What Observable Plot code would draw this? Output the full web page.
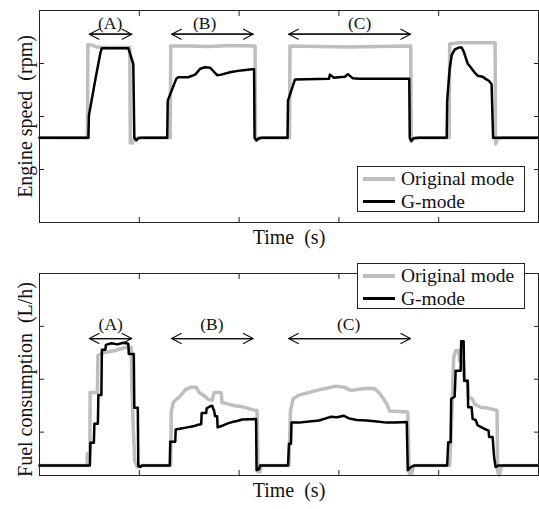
<!DOCTYPE html>
<html><head><meta charset="utf-8">
<script src="https://cdn.jsdelivr.net/npm/d3@7"></script>
<script src="https://cdn.jsdelivr.net/npm/@observablehq/plot@0.6"></script>
<style>
body{margin:0;background:#fff;}
#wrap{position:relative;width:539px;height:509px;font-family:'Liberation Serif',serif;}
#wrap svg{display:block;}
.legend{position:absolute;background:#fff;border:1px solid #222;box-sizing:border-box;}
.row{position:absolute;left:0;height:22px;display:flex;align-items:center;}
.sw{margin-left:5px;width:32px;}
.lab{margin-left:6px;font-size:19.5px;line-height:22px;color:#111;white-space:nowrap;}
</style></head><body><div id="wrap"></div>
<script>
// ---------- data ----------
const seriesNames = ["Original mode", "G-mode"];
const seriesColors = ["#bebebe", "#000000"];
const timeTicks = [100, 200, 300, 400];
const speedTicks = [1000, 2000, 3000];
const fuelTicks = [10, 20, 30];
const xLabel = "Time\u00a0\u00a0(s)";
const speedLabel = "Engine speed\u00a0\u00a0(rpm)";
const fuelLabel = "Fuel consumption\u00a0\u00a0(L/h)";

// [time, engine speed]
const speedOriginal = [
  [0,1600],[48,1600],[48.5,3360],[54,3340],[57,3310],[70,3300],[88,3300],[90.5,3310],[91,1500],[93,1500],[95,1580],[100,1600],
  [131,1600],[131.5,3330],[150,3330],[170,3320],[190,3340],[216,3330],[216.5,1550],[219,1590],[223,1600],
  [250.5,1600],[251,3330],[280,3320],[310,3310],[340,3320],[372,3330],[372.5,1530],[375,1590],[380,1600],
  [410.5,1600],[411,3370],[420,3390],[440,3390],[456.5,3390],[457,1480],[459,1580],[465,1600],[500,1600]
];
const speedGmode = [
  [0,1600],[49,1600],[49.5,2020],[56,2700],[61,3200],[62.5,3290],[75,3290],[89,3290],[94,2990],[95,1600],[97,1550],[99,1590],[102,1600],
  [128,1600],[128.5,2300],[137,2710],[139,2740],[149,2740],[156,2790],[161,2900],[166,2930],[171,2920],[178,2780],[182,2790],[192,2840],[202,2870],[213,2890],[215,2890],[215.5,1600],[217.5,1550],[220,1590],[223,1600],
  [248.5,1600],[249,2300],[256,2700],[290,2710],[291,2790],[295,2730],[300,2740],[306,2750],[309,2800],[314,2720],[320,2710],[370.5,2710],[371,1600],[372.5,1540],[375,1590],[380,1600],
  [408,1600],[408.5,2300],[411,2900],[413,3160],[416,3260],[420,3300],[423,3300],[425,3230],[429,3000],[432,2930],[436,2830],[439,2770],[444,2750],[447,2710],[450.5,2670],[453,2610],[454.5,1600],[500,1600]
];
// [time, fuel consumption]
const fuelOriginal = [
  [0,3.7],[47.5,3.7],[48,6.0],[50.5,6.0],[50.7,17.5],[58,17.5],[58.5,24.5],[64,25.0],[75,25.4],[86,26.0],[92,26.0],[92.5,19.0],[94,10.5],[95.5,4.5],[98,3.4],[100,3.7],
  [131.5,3.7],[132,13.8],[134,15.6],[137,16.2],[140,16.6],[143,17.3],[146,18.0],[151,18.5],[157,18.5],[160,17.5],[165,16.9],[169,16.2],[173,16.0],[175,17.5],[182,17.5],[183,15.6],[189,15.3],[196,15.0],[203,14.8],[209,14.5],[214,14.2],[218,14.1],[219,2.5],[221,2.5],[222,3.7],
  [250,3.7],[250.5,7.8],[251.5,14.0],[254,16.3],[260,17.0],[270,17.5],[280,18.0],[290,18.4],[297,18.7],[305,18.5],[312,17.9],[320,18.1],[330,18.3],[336,18.2],[340,17.5],[344,16.5],[348,15.3],[351,14.0],[360,13.9],[369,13.8],[370.5,2.0],[373,2.2],[375,3.7],
  [411,3.7],[412,7.8],[413.5,15.3],[415,24.1],[417,25.4],[420,25.4],[421,23.5],[425,23.5],[426,19.7],[429,19.7],[430,16.6],[434,16.2],[436,15.3],[442,14.7],[450,14.5],[458.5,14.1],[459,2.5],[461,1.9],[463,3.5],[466,3.7],[500,3.7]
];
const fuelGmode = [
  [0,3.7],[50.5,3.7],[51,8.0],[54.5,8.0],[55,11.6],[58.5,11.6],[59,17.0],[62,17.0],[62.5,25.6],[66,25.6],[66.5,26.5],[72,26.8],[78,26.6],[84,26.9],[89,26.7],[89.5,24.8],[94.5,24.8],[95,14.6],[98.5,14.6],[99,3.6],[101,3.4],[103,3.7],
  [130.5,3.7],[131,8.2],[136,8.2],[136.5,10.5],[142,10.7],[148,10.9],[154,11.1],[159,11.4],[162,11.5],[162.5,13.6],[167,13.6],[167.5,14.5],[171,14.9],[173,15.0],[175,14.0],[176,13.0],[178,13.0],[178.5,10.9],[183,11.2],[188,11.6],[193,11.9],[198,12.1],[203,12.4],[217,12.5],[217.5,2.8],[220,3.0],[221,3.7],
  [249,3.7],[250,7.8],[252,7.8],[252.5,11.8],[260,11.8],[270,12.0],[280,12.2],[287,12.6],[292,12.9],[298,12.8],[305,13.1],[310,12.6],[318,12.3],[328,12.2],[338,12.0],[348,11.8],[356,11.8],[368,11.9],[369,2.8],[372,3.4],[376,3.7],
  [408.5,3.7],[409.5,8.1],[412,8.1],[412.5,16.3],[416,16.7],[417,21.6],[422,21.6],[422.5,27.2],[425,27.2],[425.5,19.7],[429,19.7],[429.5,14.7],[433,14.7],[434,12.5],[437,12.3],[439,11.3],[442,11.0],[446,10.6],[450,10.3],[450.5,9.1],[454,9.1],[455.5,5.3],[457,3.4],[460,3.7],[500,3.7]
];

// annotations (A), (B), (C)
const annLabels = ["(A)", "(B)", "(C)"];
const annStart = [50, 132.4, 249.7];
const annEnd = [92.4, 214, 371.7];
const speedLabelX = [70.7, 165.4, 320.7];
const fuelLabelX = [71.4, 172.7, 309.7];
const speedArrowY = 3553, speedTextY = 3655;
const fuelArrowY = 27.7, fuelTextY = 29.3;

// ---------- drawing ----------
function panel(o) {
  const ann = annLabels.map((label, i) => ({label, start: annStart[i], end: annEnd[i], lx: o.labelX[i]}));
  const axisOpts = {tickSize: -5, tickFormat: () => "", label: null, stroke: "#222"};
  return Plot.plot({
    width: 539, height: o.height,
    marginLeft: 39, marginRight: 1, marginTop: o.marginTop, marginBottom: o.marginBottom,
    x: {domain: [0, 500]},
    y: {domain: o.yDomain},
    style: {fontFamily: "'Liberation Serif', serif", background: "white", overflow: "visible", color: "#111"},
    marks: [
      Plot.line(o.orig, {x: d => d[0], y: d => d[1], stroke: seriesColors[0], strokeWidth: 3.5, strokeLinejoin: "round"}),
      Plot.line(o.gmode, {x: d => d[0], y: d => d[1], stroke: seriesColors[1], strokeWidth: 2.5, strokeLinejoin: "round"}),
      Plot.frame({stroke: "#222"}),
      Plot.axisX({anchor: "bottom", ticks: timeTicks, ...axisOpts}),
      Plot.axisX({anchor: "top", ticks: timeTicks, ...axisOpts}),
      Plot.axisY({anchor: "left", ticks: o.yTicks, ...axisOpts}),
      Plot.axisY({anchor: "right", ticks: o.yTicks, ...axisOpts}),
      Plot.arrow(ann, {x1: "start", x2: "end", y1: () => o.arrowY, y2: () => o.arrowY, stroke: "#111", strokeWidth: 1.2, headLength: 13.5, headAngle: 55}),
      Plot.arrow(ann, {x1: "end", x2: "start", y1: () => o.arrowY, y2: () => o.arrowY, stroke: "#111", strokeWidth: 1.2, headLength: 13.5, headAngle: 55}),
      Plot.text(ann, {x: "lx", y: () => o.textY, text: "label", lineAnchor: "bottom", fontSize: 17.5, fill: "#111"}),
      Plot.text([xLabel], {text: d => d, frameAnchor: "bottom", lineAnchor: "bottom", dy: 21, fontSize: 20, fill: "#111"}),
      Plot.text([o.yLabel], {text: d => d, frameAnchor: "left", textAnchor: "middle", lineAnchor: "bottom", rotate: -90, dx: -8, dy: o.yLabelDy, fontSize: 20, fill: "#111"})
    ]
  });
}

const wrap = document.getElementById("wrap");
wrap.appendChild(panel({height: 250, marginTop: 10, marginBottom: 28, yDomain: [0, 4000], yTicks: speedTicks,
  orig: speedOriginal, gmode: speedGmode, yLabel: speedLabel, yLabelDy: 0,
  arrowY: speedArrowY, textY: speedTextY, labelX: speedLabelX}));
wrap.appendChild(panel({height: 259, marginTop: 23, marginBottom: 34, yDomain: [1.8, 40], yTicks: fuelTicks,
  orig: fuelOriginal, gmode: fuelGmode, yLabel: fuelLabel, yLabelDy: 5,
  arrowY: fuelArrowY, textY: fuelTextY, labelX: fuelLabelX}));

function legend(top) {
  const box = document.createElement("div");
  box.className = "legend";
  Object.assign(box.style, {left: "357px", top: top + "px", width: "168px", height: "46px"});
  const rowCenters = [13, 35.5];
  const thick = [3.5, 3];
  seriesNames.forEach((name, i) => {
    const row = document.createElement("div");
    row.className = "row";
    row.style.top = (rowCenters[i] - 11 - 1) + "px";
    const sw = document.createElement("div");
    sw.className = "sw";
    sw.style.height = thick[i] + "px";
    sw.style.background = seriesColors[i];
    const lab = document.createElement("span");
    lab.className = "lab";
    lab.textContent = name;
    row.appendChild(sw); row.appendChild(lab);
    box.appendChild(row);
  });
  wrap.appendChild(box);
}
legend(166);
legend(263);
</script></body></html>
